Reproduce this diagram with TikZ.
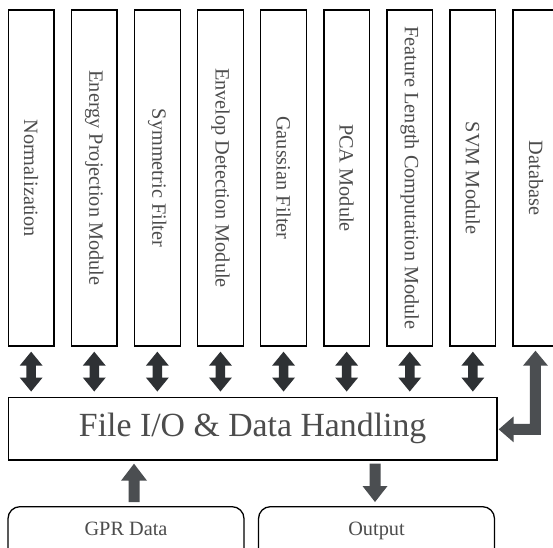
\documentclass[tikz,border=0pt]{standalone}
\usepackage{fontspec}
\setmainfont{Liberation Serif}
\usetikzlibrary{calc}

\definecolor{txtgray}{HTML}{4C4C4C}
\definecolor{arrdark}{HTML}{2E3134}
\definecolor{arrgray}{HTML}{4B4E51}

\tikzset{
  modbox/.style={draw=black, line width=1.4pt, fill=white, inner sep=0pt,
    minimum width=45.7pt, minimum height=336pt, text=txtgray,
    font=\fontsize{20.3}{24}\selectfont},
  mainbox/.style={draw=black, line width=1.4pt, fill=white, inner sep=0pt,
    minimum width=488.7pt, minimum height=62.3pt, text=txtgray,
    font=\fontsize{33.8}{40}\selectfont},
  srcbox/.style={draw=black, line width=1.3pt, rounded corners=12pt, inner sep=0pt,
    anchor=north, minimum width=236pt, minimum height=56pt, text=txtgray,
    text depth=12pt, font=\fontsize{20.3}{24}\selectfont},
}

% double-headed block arrow from a module box down to the I/O box
\newcommand{\twoway}[2]{%
  \fill[arrdark] let \p1=(#1.south), \p2=(#2.north) in
    (\x1,\y1-5pt) -- (\x1+11.5pt,\y1-19pt) -- (\x1+4.75pt,\y1-19pt)
    -- (\x1+4.75pt,\y2+19.5pt) -- (\x1+11.5pt,\y2+19.5pt) -- (\x1,\y2+5.5pt)
    -- (\x1-11.5pt,\y2+19.5pt) -- (\x1-4.75pt,\y2+19.5pt)
    -- (\x1-4.75pt,\y1-19pt) -- (\x1-11.5pt,\y1-19pt) -- cycle;}

\newcommand{\vlabel}[1]{\rotatebox[origin=c]{-90}{#1}}

\begin{document}
\begin{tikzpicture}[x=1pt, y=-1pt]
  \clip (0,0) rectangle (553,547);
  \fill[white] (0,0) rectangle (553,547);

  % processing modules
  \node[modbox] (m0) at (31.15,178) {\vlabel{Normalization}};
  \node[modbox] (m1) at (94.25,178) {\vlabel{Energy Projection Module}};
  \node[modbox] (m2) at (157.35,178) {\vlabel{Symmetric Filter}};
  \node[modbox] (m3) at (220.45,178) {\vlabel{Envelop Detection Module}};
  \node[modbox] (m4) at (283.55,178) {\vlabel{Gaussian Filter}};
  \node[modbox] (m5) at (346.65,178) {\vlabel{PCA Module}};
  \node[modbox] (m6) at (409.75,178) {\vlabel{Feature Length Computation Module}};
  \node[modbox] (m7) at (472.85,178) {\vlabel{SVM Module}};
  \node[modbox] (db) at (535.95,178) {\vlabel{Database}\hspace{10pt}};

  % central I/O block
  \node[mainbox] (main) at (252.65,428.85) {File I/O \& Data Handling};

  % input and output
  \node[srcbox] (gpr) at (126,506) {GPR Data};
  \node[srcbox] (out) at (376.5,506) {Output};

  % module <-> I/O arrows
  \foreach \m in {m0,m1,m2,m3,m4,m5,m6,m7} {\twoway{\m}{main}}

  % GPR data up into the I/O block
  \fill[arrgray] let \p1=(gpr.north), \p2=(main.south) in
    (\x1+8pt,\y2-3pt) -- (\x1+21pt,\y2-20pt) -- (\x1+13.5pt,\y2-20pt)
    -- (\x1+13.5pt,\y1+4pt) -- (\x1+2.5pt,\y1+4pt) -- (\x1+2.5pt,\y2-20pt)
    -- (\x1-5pt,\y2-20pt) -- cycle;

  % I/O block down to output
  \fill[arrgray] let \p1=(out.north), \p2=(main.south) in
    (\x1-7pt,\y2-3pt) -- (\x1+4pt,\y2-3pt) -- (\x1+4pt,\y1+20pt)
    -- (\x1+11pt,\y1+20pt) -- (\x1-1.5pt,\y1+4pt) -- (\x1-14pt,\y1+20pt)
    -- (\x1-7pt,\y1+20pt) -- cycle;

  % bent arrow between I/O block and database
  \fill[arrgray] let \p1=(db.south), \p2=(main.east) in
    (\x1-0.5pt,\y1-4pt) -- (\x1+12pt,\y1-19pt) -- (\x1+5pt,\y1-19pt)
    -- (\x1+5pt,\y2-6pt) -- (\x2+16pt,\y2-6pt) -- (\x2+16pt,\y2-13.5pt)
    -- (\x2+1pt,\y2-0.5pt) -- (\x2+16pt,\y2+12.5pt) -- (\x2+16pt,\y2+5pt)
    -- (\x1-6pt,\y2+5pt) -- (\x1-6pt,\y1-19pt) -- (\x1-13pt,\y1-19pt) -- cycle;
\end{tikzpicture}
\end{document}
